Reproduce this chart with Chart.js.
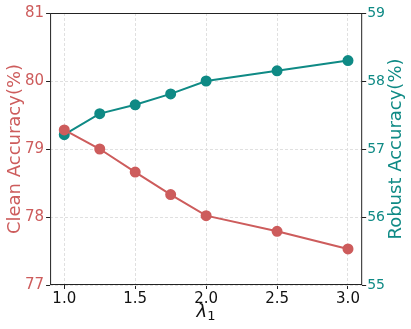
<!DOCTYPE html>
<html>
<head>
<meta charset="utf-8">
<script src="https://cdn.jsdelivr.net/npm/chart.js@4"></script>
<style>
  html, body { margin: 0; padding: 0; background: #fff; }
  #wrap { width: 411px; height: 329px; }
</style>
</head>
<body>
<div id="wrap"><canvas id="chart" width="411" height="329"></canvas></div>
<script>
// data
const lambdaVals = [1.0, 1.25, 1.5, 1.75, 2.0, 2.5, 3.0];
const cleanAcc = [79.28, 79.0, 78.66, 78.33, 78.02, 77.79, 77.53];
const robustAcc = [57.21, 57.52, 57.65, 57.81, 58.0, 58.15, 58.3];
const xTicks = [1.0, 1.5, 2.0, 2.5, 3.0];
const leftTicks = [77, 78, 79, 80, 81];
const rightTicks = [55, 56, 57, 58, 59];

const RED = '#cd5c5c';
const TEAL = '#0f8a85';
const FONT = "'DejaVu Sans', sans-serif";

// frame round the plot area + axis titles (matplotlib style: both y titles read bottom-to-top)
const framePlugin = {
    id: 'frame',
    afterDatasetsDraw(chart) {
        const { ctx, chartArea: a } = chart;
        ctx.save();
        ctx.strokeStyle = '#222';
        ctx.lineWidth = 1;
        ctx.strokeRect(a.left + 0.5, a.top + 0.5, a.right - a.left - 1, a.bottom - a.top - 1);

        const midY = (a.top + a.bottom) / 2;
        ctx.font = '18px ' + FONT;
        ctx.textAlign = 'center';
        ctx.textBaseline = 'middle';

        ctx.save();
        ctx.translate(15, midY);
        ctx.rotate(-Math.PI / 2);
        ctx.fillStyle = RED;
        ctx.fillText('Clean Accuracy(%)', 0, 0);
        ctx.restore();

        ctx.save();
        ctx.translate(396, midY);
        ctx.rotate(-Math.PI / 2);
        ctx.fillStyle = TEAL;
        ctx.fillText('Robust Accuracy(%)', 0, 0);
        ctx.restore();

        // lambda with subscript 1
        const cx = (a.left + a.right) / 2;
        ctx.fillStyle = '#111';
        ctx.font = 'italic 18px ' + FONT;
        ctx.textAlign = 'right';
        ctx.fillText('λ', cx + 1, 312);
        ctx.font = '13px ' + FONT;
        ctx.textAlign = 'left';
        ctx.fillText('1', cx + 1, 317);
        ctx.restore();
    }
};

new Chart(document.getElementById('chart'), {
    type: 'line',
    data: {
        datasets: [{
            label: 'Clean',
            data: lambdaVals.map((x, i) => ({ x, y: cleanAcc[i] })),
            yAxisID: 'y',
            borderColor: RED,
            backgroundColor: RED,
            borderWidth: 2,
            pointRadius: 4.5,
            pointHoverRadius: 4.5,
            tension: 0
        }, {
            label: 'Robust',
            data: lambdaVals.map((x, i) => ({ x, y: robustAcc[i] })),
            yAxisID: 'y2',
            borderColor: TEAL,
            backgroundColor: TEAL,
            borderWidth: 2,
            pointRadius: 4.5,
            pointHoverRadius: 4.5,
            tension: 0
        }]
    },
    options: {
        responsive: false,
        animation: false,
        layout: { padding: { top: 13, right: 25, bottom: 20, left: 23 } },
        plugins: { legend: { display: false }, tooltip: { enabled: false } },
        scales: {
            x: {
                type: 'linear',
                min: 0.9,
                max: 3.1,
                afterBuildTicks: s => { s.ticks = xTicks.map(v => ({ value: v })); },
                ticks: {
                    color: '#111',
                    font: { family: FONT, size: 15 },
                    padding: 1,
                    maxRotation: 0,
                    callback: v => v.toFixed(1)
                },
                grid: { color: '#e0e0e0', tickColor: '#222', tickLength: 4, lineWidth: 1 },
                border: { display: false, dash: [3, 2] }
            },
            y: {
                position: 'left',
                min: 77,
                max: 81,
                afterBuildTicks: s => { s.ticks = leftTicks.map(v => ({ value: v })); },
                ticks: { color: RED, font: { family: FONT, size: 15 }, padding: 2 },
                grid: { color: '#e0e0e0', tickColor: '#222', tickLength: 4, lineWidth: 1 },
                border: { display: false, dash: [3, 2] }
            },
            y2: {
                position: 'right',
                min: 55,
                max: 59,
                afterBuildTicks: s => { s.ticks = rightTicks.map(v => ({ value: v })); },
                ticks: { color: TEAL, font: { family: FONT, size: 14 }, padding: 1 },
                grid: { drawOnChartArea: false, tickColor: '#222', tickLength: 4 },
                border: { display: false }
            }
        }
    },
    plugins: [framePlugin]
});
</script>
</body>
</html>
